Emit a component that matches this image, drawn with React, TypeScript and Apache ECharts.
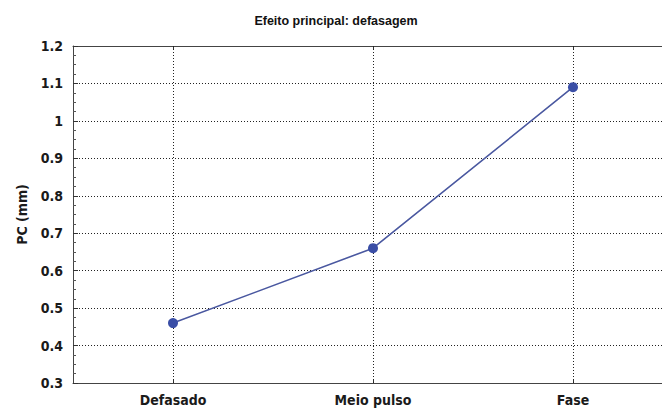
import React, { useEffect, useRef } from "react";
import * as echarts from "echarts";

const categories = ["Defasado", "Meio pulso", "Fase"];
const pcValues = [0.46, 0.66, 1.09];
const titleText = "Efeito principal: defasagem";
const yAxisName = "PC (mm)";

const FONT = "'Liberation Sans Narrow', 'DejaVu Sans Condensed', 'DejaVu Sans', sans-serif";
const TITLE_FONT = "'Liberation Sans', Arial, sans-serif";

export default function App() {
  const ref = useRef<HTMLDivElement>(null);
  useEffect(() => {
    if (!ref.current) return;
    const chart = echarts.init(ref.current, null, { renderer: "svg" });
    chart.setOption({
      animation: false,
      backgroundColor: "#ffffff",
      title: {
        text: titleText,
        left: 331,
        textAlign: "center",
        top: 9,
        textStyle: { fontFamily: TITLE_FONT, fontWeight: "bold", fontSize: 12.5, color: "#111" },
      },
      grid: {
        left: 73,
        top: 46,
        height: 337,
        right: 1,
        show: false,
      },
      xAxis: [
        {
          type: "category",
          data: categories,
          boundaryGap: true,
          axisLine: { show: true, lineStyle: { color: "#444", width: 1 } },
          axisTick: { show: true, alignWithLabel: true, inside: true, length: 4, lineStyle: { color: "#333" } },
          axisLabel: { fontFamily: FONT, fontWeight: "bold", fontSize: 14, color: "#1a1a1a", margin: 10 },
          splitLine: { show: false },
        },
        {
          type: "category",
          position: "top",
          data: categories,
          boundaryGap: true,
          axisLine: { show: true, lineStyle: { color: "#444", width: 1 } },
          axisTick: { show: true, alignWithLabel: true, inside: true, length: 4, lineStyle: { color: "#333" } },
          axisLabel: { show: false },
          splitLine: { show: false },
        },
      ],
      yAxis: {
        type: "value",
        min: 0.3,
        max: 1.2,
        interval: 0.1,
        name: yAxisName,
        nameLocation: "middle",
        nameGap: 44,
        nameTextStyle: { fontFamily: FONT, fontWeight: "bold", fontSize: 14, color: "#1a1a1a" },
        axisLine: { show: true, lineStyle: { color: "#444", width: 1 } },
        axisTick: { show: true, inside: true, length: 5, lineStyle: { color: "#333" } },
        minorTick: { show: true, splitNumber: 4, length: 3, lineStyle: { color: "#555" } },
        axisLabel: {
          fontFamily: FONT,
          fontWeight: "bold",
          fontSize: 14,
          color: "#1a1a1a",
          margin: 10,
          formatter: (v: number) => String(Math.round(v * 10) / 10),
        },
        splitLine: { show: true, lineStyle: { color: "#222", type: [1, 2], width: 1 } },
      },
      series: [
        {
          type: "line",
          data: pcValues,
          xAxisIndex: 0,
          symbol: "circle",
          symbolSize: 10,
          itemStyle: { color: "#3a4ea6" },
          lineStyle: { color: "#4a58a0", width: 1.6 },
          z: 5,
          markLine: {
            silent: true,
            symbol: "none",
            label: { show: false },
            lineStyle: { color: "#222", type: [1, 2], width: 1 },
            data: categories.map((c) => ({ xAxis: c })),
            z: 1,
          },
        },
      ],
    });
    return () => chart.dispose();
  }, []);
  return (
    <div
      ref={ref}
      style={{ position: "fixed", left: 0, top: 0, width: 674, height: 411, background: "#fff" }}
    />
  );
}
